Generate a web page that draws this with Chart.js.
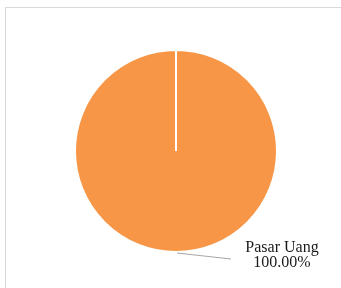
<!DOCTYPE html>
<html>
<head>
<meta charset="utf-8">
<script src="https://cdn.jsdelivr.net/npm/chart.js@4.4.1/dist/chart.umd.min.js"></script>
<style>
  html, body { margin: 0; padding: 0; background: #ffffff; overflow: hidden; }
  #wrap { position: relative; width: 341px; height: 288px; }
  #frame { position: absolute; left: 5px; top: 7px; width: 400px; height: 400px; border: 1px solid #d9d9d9; box-sizing: border-box; }
  canvas { position: absolute; left: 0; top: 0; }
</style>
</head>
<body>
<div id="wrap">
  <div id="frame"></div>
  <canvas id="c" width="341" height="288"></canvas>
</div>
<script>
const categories = ["Pasar Uang"];
const values = [100];
const percentLabels = ["100.00%"];
const sliceColors = ["#F79646"];

const labelPlugin = {
  id: 'sliceLabels',
  afterDatasetsDraw(chart) {
    const ctx = chart.ctx;
    const meta = chart.getDatasetMeta(0);
    meta.data.forEach((arc, i) => {
      const p = arc.getProps(['x', 'y', 'outerRadius', 'startAngle', 'endAngle'], true);
      const mid = (p.startAngle + p.endAngle) / 2;
      const sx = p.x + Math.cos(mid) * p.outerRadius + 1;
      const sy = p.y + Math.sin(mid) * p.outerRadius + 1;
      ctx.save();
      ctx.strokeStyle = '#a6a6a6';
      ctx.lineWidth = 1;
      ctx.beginPath();
      ctx.moveTo(sx, sy);
      ctx.lineTo(sx + 54, sy + 6);
      ctx.stroke();
      ctx.fillStyle = '#1a1a1a';
      ctx.font = '16px "Liberation Serif", serif';
      ctx.textAlign = 'center';
      ctx.textBaseline = 'alphabetic';
      const tx = sx + 105;
      ctx.fillText(categories[i], tx, sy - 1);
      ctx.fillText(percentLabels[i], tx, sy + 14);
      ctx.restore();
    });
  }
};

new Chart(document.getElementById('c'), {
  type: 'pie',
  data: {
    labels: categories,
    datasets: [{
      data: values,
      backgroundColor: sliceColors,
      borderColor: '#ffffff',
      borderWidth: 2
    }]
  },
  options: {
    responsive: false,
    animation: false,
    layout: { padding: { left: 74, right: 63, top: 49, bottom: 35 } },
    plugins: {
      legend: { display: false },
      tooltip: { enabled: false }
    }
  },
  plugins: [labelPlugin]
});
</script>
</body>
</html>
